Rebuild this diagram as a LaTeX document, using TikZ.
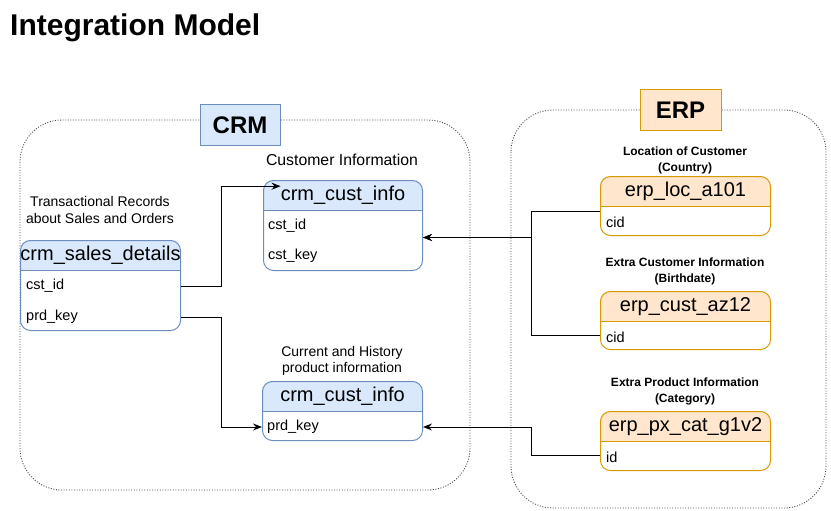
\documentclass[tikz,border=0pt]{standalone}
\usepackage{fontspec}
\setmainfont{Liberation Sans}
\usetikzlibrary{arrows.meta,positioning}

\definecolor{crmfill}{HTML}{DAE8FC}
\definecolor{crmline}{HTML}{6C8EBF}
\definecolor{erpfill}{HTML}{FFE6CC}
\definecolor{erpline}{HTML}{D79B00}

\tikzset{
  group/.style={draw=black!70, line width=0.9pt, dash pattern=on 1pt off 1.6pt, rounded corners=42pt},
  grouptag/.style={line width=1pt, minimum width=80pt, minimum height=40pt, inner sep=0pt,
    font=\fontsize{24}{28}\selectfont\bfseries},
  tablebox/.style={anchor=north west, rounded corners=10pt, line width=1pt, inner sep=0pt},
  tablehead/.style={minimum height=30pt, inner sep=0pt, font=\fontsize{20}{24}\selectfont},
  row/.style={anchor=west, inner sep=0pt, font=\fontsize{14.5}{17}\selectfont},
  note/.style={align=center, inner sep=0pt, font=\fontsize{14}{16.5}\selectfont},
  boldnote/.style={align=center, inner sep=0pt, font=\fontsize{12}{16}\selectfont\bfseries},
  link/.style={line width=1pt, -{Stealth[length=9pt,width=7pt,inset=3pt]}},
}

% table: name, colour prefix, x, y, width, height, title
\newcommand\dbtable[7]{%
  \begin{scope}
    \clip (#3,#4) rectangle ++(#5,30);
    \fill[#2fill, rounded corners=10pt] (#3,#4) rectangle ++(#5,#6);
  \end{scope}
  \node[tablebox, draw=#2line, minimum width=#5pt, minimum height=#6pt] (#1) at (#3,#4) {};
  \node[tablehead, below=0pt of #1.north] (#1-t) {#7};
  \draw[#2line, line width=1pt] (#1-t.south -| #1.west) -- (#1-t.south -| #1.east);
}

\begin{document}
\begin{tikzpicture}[x=1pt, y=-1pt]
  \useasboundingbox (0,0) rectangle (831,511);

  \node[anchor=base west, inner sep=0pt, font=\fontsize{30}{36}\selectfont\bfseries] (title) at (10,36) {Integration Model};

  % source groups
  \draw[group] (20,120) rectangle (470,490);
  \draw[group] (511,110) rectangle (826,508);
  \node[grouptag, draw=crmline, fill=crmfill] (crm) at (240,125) {CRM};
  \node[grouptag, draw=erpline, fill=erpfill, minimum width=81pt, minimum height=41pt] (erp) at (680.5,110.5) {ERP};

  % CRM tables
  \dbtable{custinfo}{crm}{263}{180}{159}{90}{crm\_cust\_info}
  \node[row] (custinfo-a) at (268,226) {cst\_id};
  \node[row] (custinfo-b) at (268,256) {cst\_key};
  \node[note, font=\fontsize{15.8}{18}\selectfont] (custnote) at (342,160) {Customer Information};

  \dbtable{sales}{crm}{20}{240}{160}{90}{crm\_sales\_details}
  \node[row] (sales-a) at (26,286) {cst\_id};
  \node[row] (sales-b) at (26,317) {prd\_key};
  \node[note] (salesnote) at (100,210) {Transactional Records\\about Sales and Orders};

  \dbtable{prdinfo}{crm}{262}{381}{160}{59}{crm\_cust\_info}
  \node[row] (prdinfo-a) at (267,427) {prd\_key};
  \node[note] (prdnote) at (342,361) {Current and History\\product information};

  % ERP tables
  \dbtable{loc}{erp}{600}{176}{170}{59}{erp\_loc\_a101}
  \node[row] (loc-a) at (606,222) {cid};
  \node[boldnote] (locnote) at (685,160) {Location of Customer\\(Country)};

  \dbtable{az}{erp}{600}{291}{170}{58}{erp\_cust\_az12}
  \node[row] (az-a) at (606,337) {cid};
  \node[boldnote] (aznote) at (685,271) {Extra Customer Information\\(Birthdate)};

  \dbtable{px}{erp}{600}{411}{170}{59}{erp\_px\_cat\_g1v2}
  \node[row] (px-a) at (606,457) {id};
  \node[boldnote] (pxnote) at (685,391) {Extra Product Information\\(Category)};

  % links
  \draw[link] (sales-a.east -| sales.east) -- ++(40,0) |- ([yshift=9pt]custinfo-t.west);
  \draw[link] (sales-b.east -| sales.east) -- ++(40,0) |- (prdinfo-a.west -| prdinfo.west);
  \draw[link] ([yshift=-5pt]loc.west) -- ++(-69,0) |- ([yshift=-12pt]custinfo.east);
  \draw[link] ([yshift=-15pt]az.west) -- ++(-69,0) |- ([yshift=-12pt]custinfo.east);
  \draw[link] ([yshift=-14.5pt]px.west) -- ++(-69,0) |- (prdinfo-a.west -| prdinfo.east);
\end{tikzpicture}
\end{document}
